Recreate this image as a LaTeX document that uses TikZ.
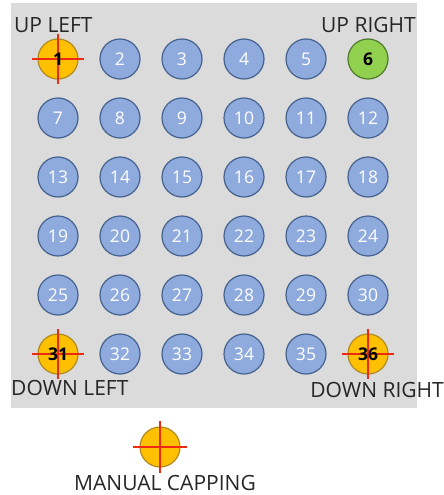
\documentclass[tikz,border=0pt]{standalone}
\usepackage{fontspec}
\setmainfont{Open Sans}
\begin{document}
\begin{tikzpicture}[x=1pt,y=-1pt,
  ball/.style={circle,minimum size=40pt,inner sep=0pt,line width=1.2pt,font=\fontsize{17.5}{17.5}\selectfont},
  blueball/.style={ball,fill=ballblue,draw=ballblueedge,text=white},
  greenball/.style={ball,fill=ballgreen,draw=ballgreenedge,text=black,font=\fontsize{17.5}{17.5}\selectfont\bfseries},
  capball/.style={ball,fill=ballorange,draw=ballorangeedge},
  capnum/.style={inner sep=0pt,text=black,font=\fontsize{17.5}{17.5}\selectfont\bfseries},
  cross/.style={draw=crossred,line width=1.6pt},
  lab/.style={inner sep=0pt,text=labgray,font=\fontsize{21}{21}\selectfont},
]
\definecolor{bggray}{HTML}{DBDBDB}
\definecolor{ballblue}{HTML}{8FAADC}
\definecolor{ballblueedge}{HTML}{45628F}
\definecolor{ballgreen}{HTML}{92D050}
\definecolor{ballgreenedge}{HTML}{4E7A2A}
\definecolor{ballorange}{HTML}{FFC000}
\definecolor{ballorangeedge}{HTML}{B08A20}
\definecolor{crossred}{HTML}{EE2A10}
\definecolor{labgray}{HTML}{262626}
\useasboundingbox (0,0) rectangle (444,495);
\fill[bggray] (11,3) rectangle (417,408);
% grid of balls
\foreach \r in {0,...,5}{
  \foreach \c in {0,...,5}{
    \pgfmathtruncatemacro{\n}{\r*6+\c+1}
    \pgfmathsetmacro{\xx}{58+62*\c}
    \pgfmathsetmacro{\yy}{59+59*\r}
    \ifnum\n=1 \node[capball] (c\n) at (\xx,\yy) {};
    \else\ifnum\n=31 \node[capball] (c\n) at (\xx,\yy) {};
    \else\ifnum\n=36 \node[capball] (c\n) at (\xx,\yy) {};
    \else\ifnum\n=6 \node[greenball] (c\n) at (\xx,\yy) {\n};
    \else \node[blueball] (c\n) at (\xx,\yy) {\n};
    \fi\fi\fi\fi
  }
}
% crosshairs on capped balls
\foreach \n in {1,31,36}{
  \draw[cross] ([xshift=-26pt]c\n.center) -- ([xshift=26pt]c\n.center);
  \draw[cross] ([yshift=-25pt]c\n.center) -- ([yshift=25pt]c\n.center);
}
\node[capnum] (t1) at (c1) {1};
\node[capnum] (t31) at (c31) {31};
\node[capnum] (t36) at (c36) {36};
% corner labels
\node[lab,anchor=base west] (ul) at (14,33) {UP LEFT};
\node[lab,anchor=base east] (ur) at (416,33) {UP RIGHT};
\node[lab,anchor=base west] (dl) at (11,395) {DOWN LEFT};
\node[lab,anchor=base east] (dr) at (444,397) {DOWN RIGHT};
% legend
\node[capball] (leg) at (160,447) {};
\draw[cross] ([xshift=-27pt]leg.center) -- ([xshift=27pt]leg.center);
\draw[cross] ([yshift=-26pt]leg.center) -- ([yshift=26pt]leg.center);
\node[lab,anchor=base] (legt) at (165,490) {MANUAL CAPPING};
\end{tikzpicture}
\end{document}
